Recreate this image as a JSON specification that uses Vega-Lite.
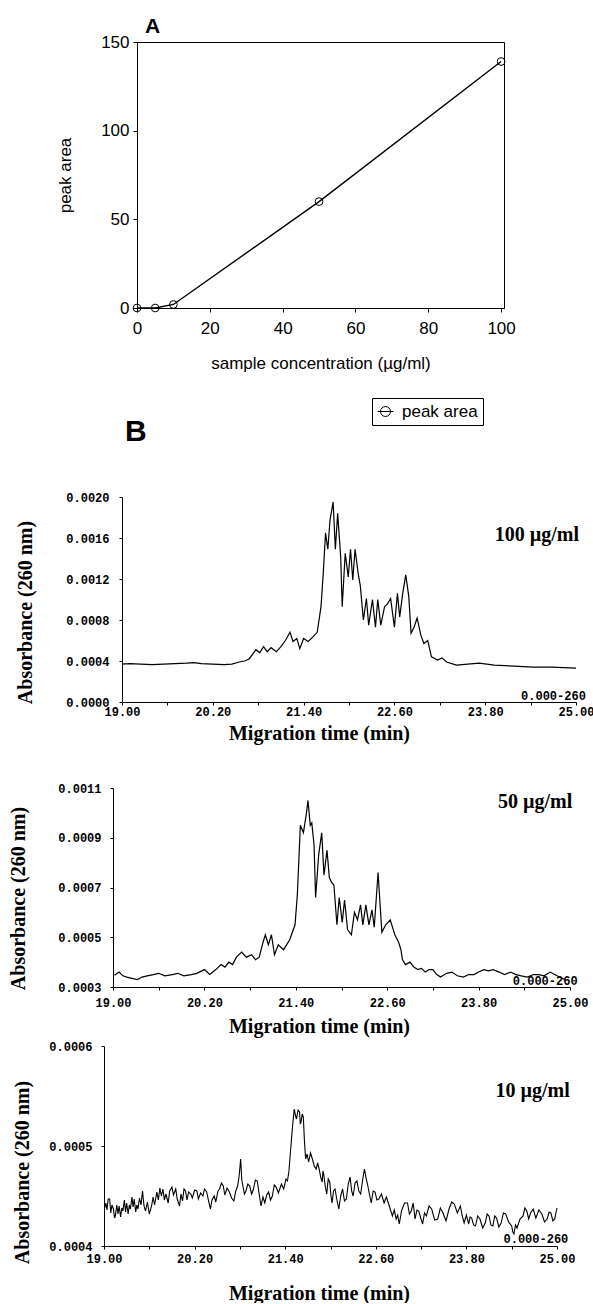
{
  "$schema": "https://vega.github.io/schema/vega-lite/v6.json",
  "background": "white",
  "padding": {"left": 0, "top": 15, "right": 0, "bottom": 0},
  "spacing": -12,
  "config": {
    "view": {"stroke": null},
    "axis": {"grid": false, "labelFlush": false, "labelOverlap": false, "domainColor": "black", "tickColor": "black", "labelColor": "black", "titleColor": "black", "domainWidth": 1, "tickWidth": 1},
    "title": {"color": "black"}
  },
  "datasets": {
    "peak": [
      {"conc": 0, "area": 0, "series": "peak area"},
      {"conc": 5, "area": 0, "series": "peak area"},
      {"conc": 10, "area": 2, "series": "peak area"},
      {"conc": 50, "area": 60, "series": "peak area"},
      {"conc": 100, "area": 139, "series": "peak area"}
    ],
    "b100": [
      {"t": 19.00, "abs": 0.00037}, {"t": 19.10, "abs": 0.000375}, {"t": 19.25, "abs": 0.00037}, {"t": 19.40, "abs": 0.000365},
      {"t": 19.55, "abs": 0.00037}, {"t": 19.70, "abs": 0.000375}, {"t": 19.85, "abs": 0.00038}, {"t": 19.95, "abs": 0.000385},
      {"t": 20.05, "abs": 0.000375}, {"t": 20.20, "abs": 0.00037}, {"t": 20.35, "abs": 0.000365}, {"t": 20.45, "abs": 0.00037},
      {"t": 20.55, "abs": 0.00039}, {"t": 20.62, "abs": 0.0004}, {"t": 20.68, "abs": 0.00042}, {"t": 20.72, "abs": 0.00046},
      {"t": 20.77, "abs": 0.00051}, {"t": 20.82, "abs": 0.00048}, {"t": 20.87, "abs": 0.00054}, {"t": 20.92, "abs": 0.00049},
      {"t": 20.97, "abs": 0.00053}, {"t": 21.04, "abs": 0.00049}, {"t": 21.10, "abs": 0.00054}, {"t": 21.16, "abs": 0.0006},
      {"t": 21.22, "abs": 0.00068}, {"t": 21.26, "abs": 0.00059}, {"t": 21.31, "abs": 0.00062}, {"t": 21.35, "abs": 0.00052},
      {"t": 21.40, "abs": 0.00062}, {"t": 21.46, "abs": 0.00059}, {"t": 21.53, "abs": 0.00064}, {"t": 21.58, "abs": 0.00068},
      {"t": 21.63, "abs": 0.00093}, {"t": 21.66, "abs": 0.00126}, {"t": 21.69, "abs": 0.00165}, {"t": 21.72, "abs": 0.00149},
      {"t": 21.75, "abs": 0.00178}, {"t": 21.79, "abs": 0.00195}, {"t": 21.82, "abs": 0.00149}, {"t": 21.85, "abs": 0.00184},
      {"t": 21.89, "abs": 0.00142}, {"t": 21.91, "abs": 0.00093}, {"t": 21.95, "abs": 0.00145}, {"t": 21.99, "abs": 0.00122},
      {"t": 22.02, "abs": 0.00149}, {"t": 22.05, "abs": 0.00119}, {"t": 22.08, "abs": 0.00149}, {"t": 22.12, "abs": 0.00126},
      {"t": 22.15, "abs": 0.00113}, {"t": 22.19, "abs": 0.0008}, {"t": 22.23, "abs": 0.00101}, {"t": 22.26, "abs": 0.00075},
      {"t": 22.31, "abs": 0.001}, {"t": 22.35, "abs": 0.00073}, {"t": 22.38, "abs": 0.001}, {"t": 22.42, "abs": 0.00075},
      {"t": 22.47, "abs": 0.00093}, {"t": 22.51, "abs": 0.00096}, {"t": 22.55, "abs": 0.00101}, {"t": 22.60, "abs": 0.00073},
      {"t": 22.64, "abs": 0.00106}, {"t": 22.67, "abs": 0.00083}, {"t": 22.71, "abs": 0.00106}, {"t": 22.75, "abs": 0.00124},
      {"t": 22.79, "abs": 0.00103}, {"t": 22.82, "abs": 0.00067}, {"t": 22.86, "abs": 0.00073}, {"t": 22.90, "abs": 0.00082},
      {"t": 22.95, "abs": 0.00065}, {"t": 22.99, "abs": 0.00057}, {"t": 23.04, "abs": 0.0006}, {"t": 23.09, "abs": 0.00044},
      {"t": 23.17, "abs": 0.00041}, {"t": 23.23, "abs": 0.00043}, {"t": 23.29, "abs": 0.00039}, {"t": 23.42, "abs": 0.00036},
      {"t": 23.57, "abs": 0.00037}, {"t": 23.72, "abs": 0.00038}, {"t": 23.92, "abs": 0.00036}, {"t": 24.18, "abs": 0.00035},
      {"t": 24.43, "abs": 0.00034}, {"t": 24.68, "abs": 0.00034}, {"t": 25.00, "abs": 0.00033}
    ],
    "b50": [
      {"t": 19.02, "abs": 0.000347}, {"t": 19.08, "abs": 0.00036}, {"t": 19.13, "abs": 0.000345}, {"t": 19.18, "abs": 0.00034},
      {"t": 19.25, "abs": 0.000335}, {"t": 19.32, "abs": 0.00033}, {"t": 19.38, "abs": 0.00034}, {"t": 19.45, "abs": 0.000345},
      {"t": 19.53, "abs": 0.00035}, {"t": 19.60, "abs": 0.000355}, {"t": 19.68, "abs": 0.000345}, {"t": 19.78, "abs": 0.00035},
      {"t": 19.85, "abs": 0.000355}, {"t": 19.93, "abs": 0.000345}, {"t": 20.03, "abs": 0.00035}, {"t": 20.10, "abs": 0.000355},
      {"t": 20.20, "abs": 0.00037}, {"t": 20.27, "abs": 0.00035}, {"t": 20.35, "abs": 0.00037}, {"t": 20.42, "abs": 0.00039},
      {"t": 20.47, "abs": 0.00038}, {"t": 20.52, "abs": 0.0004}, {"t": 20.57, "abs": 0.00039}, {"t": 20.62, "abs": 0.00042},
      {"t": 20.69, "abs": 0.00044}, {"t": 20.75, "abs": 0.00042}, {"t": 20.82, "abs": 0.00043}, {"t": 20.87, "abs": 0.00041},
      {"t": 20.92, "abs": 0.00042}, {"t": 20.97, "abs": 0.00048}, {"t": 21.00, "abs": 0.00051}, {"t": 21.04, "abs": 0.00047},
      {"t": 21.08, "abs": 0.00051}, {"t": 21.12, "abs": 0.00043}, {"t": 21.17, "abs": 0.00047}, {"t": 21.24, "abs": 0.00045},
      {"t": 21.32, "abs": 0.00049}, {"t": 21.39, "abs": 0.00055}, {"t": 21.42, "abs": 0.00067}, {"t": 21.46, "abs": 0.00095},
      {"t": 21.50, "abs": 0.00092}, {"t": 21.54, "abs": 0.001}, {"t": 21.56, "abs": 0.00105}, {"t": 21.59, "abs": 0.00095},
      {"t": 21.61, "abs": 0.00096}, {"t": 21.64, "abs": 0.00087}, {"t": 21.66, "abs": 0.00066}, {"t": 21.70, "abs": 0.00083},
      {"t": 21.74, "abs": 0.00092}, {"t": 21.77, "abs": 0.00075}, {"t": 21.81, "abs": 0.00085}, {"t": 21.84, "abs": 0.00074},
      {"t": 21.87, "abs": 0.00072}, {"t": 21.90, "abs": 0.00071}, {"t": 21.94, "abs": 0.00055}, {"t": 21.97, "abs": 0.00066},
      {"t": 22.01, "abs": 0.00056}, {"t": 22.04, "abs": 0.00065}, {"t": 22.08, "abs": 0.00053}, {"t": 22.13, "abs": 0.00051},
      {"t": 22.17, "abs": 0.0006}, {"t": 22.21, "abs": 0.00057}, {"t": 22.25, "abs": 0.00063}, {"t": 22.28, "abs": 0.00055},
      {"t": 22.32, "abs": 0.00063}, {"t": 22.36, "abs": 0.00055}, {"t": 22.40, "abs": 0.00061}, {"t": 22.43, "abs": 0.00054},
      {"t": 22.48, "abs": 0.00076}, {"t": 22.53, "abs": 0.00052}, {"t": 22.58, "abs": 0.00055}, {"t": 22.64, "abs": 0.00057},
      {"t": 22.70, "abs": 0.00051}, {"t": 22.75, "abs": 0.00048}, {"t": 22.78, "abs": 0.00045}, {"t": 22.80, "abs": 0.00041},
      {"t": 22.84, "abs": 0.00039}, {"t": 22.90, "abs": 0.0004}, {"t": 22.95, "abs": 0.00038}, {"t": 23.00, "abs": 0.00037},
      {"t": 23.05, "abs": 0.000375}, {"t": 23.10, "abs": 0.00036}, {"t": 23.15, "abs": 0.00037}, {"t": 23.20, "abs": 0.00037},
      {"t": 23.25, "abs": 0.00035}, {"t": 23.30, "abs": 0.00034}, {"t": 23.38, "abs": 0.000355}, {"t": 23.45, "abs": 0.00036},
      {"t": 23.52, "abs": 0.000345}, {"t": 23.60, "abs": 0.00034}, {"t": 23.67, "abs": 0.00035}, {"t": 23.74, "abs": 0.00035},
      {"t": 23.80, "abs": 0.00036}, {"t": 23.87, "abs": 0.00037}, {"t": 23.93, "abs": 0.000365}, {"t": 23.99, "abs": 0.00037},
      {"t": 24.07, "abs": 0.00036}, {"t": 24.14, "abs": 0.00035}, {"t": 24.22, "abs": 0.00036}, {"t": 24.29, "abs": 0.00035},
      {"t": 24.36, "abs": 0.000345}, {"t": 24.44, "abs": 0.00034}, {"t": 24.52, "abs": 0.00035}, {"t": 24.59, "abs": 0.00035},
      {"t": 24.66, "abs": 0.000345}, {"t": 24.74, "abs": 0.00036}, {"t": 24.80, "abs": 0.00035}, {"t": 24.86, "abs": 0.00034},
      {"t": 24.93, "abs": 0.00033}
    ],
    "b10": [
      {"t": 19.010, "abs": 0.000438}, {"t": 19.025, "abs": 0.000443}, {"t": 19.040, "abs": 0.000436}, {"t": 19.055, "abs": 0.000447},
      {"t": 19.075, "abs": 0.000447}, {"t": 19.090, "abs": 0.000433}, {"t": 19.105, "abs": 0.000441}, {"t": 19.125, "abs": 0.000437},
      {"t": 19.140, "abs": 0.000428}, {"t": 19.150, "abs": 0.00043}, {"t": 19.170, "abs": 0.000441}, {"t": 19.185, "abs": 0.000432},
      {"t": 19.200, "abs": 0.00044}, {"t": 19.220, "abs": 0.000429}, {"t": 19.235, "abs": 0.000438}, {"t": 19.250, "abs": 0.000435},
      {"t": 19.270, "abs": 0.000446}, {"t": 19.285, "abs": 0.000434}, {"t": 19.300, "abs": 0.000443}, {"t": 19.320, "abs": 0.000432},
      {"t": 19.335, "abs": 0.000441}, {"t": 19.350, "abs": 0.000437}, {"t": 19.370, "abs": 0.000449}, {"t": 19.385, "abs": 0.000439},
      {"t": 19.400, "abs": 0.000447}, {"t": 19.420, "abs": 0.000434}, {"t": 19.435, "abs": 0.000441}, {"t": 19.450, "abs": 0.000437},
      {"t": 19.470, "abs": 0.000448}, {"t": 19.490, "abs": 0.000441}, {"t": 19.510, "abs": 0.000455}, {"t": 19.530, "abs": 0.00044},
      {"t": 19.550, "abs": 0.000435}, {"t": 19.575, "abs": 0.000444}, {"t": 19.600, "abs": 0.000432}, {"t": 19.630, "abs": 0.00044},
      {"t": 19.650, "abs": 0.000449}, {"t": 19.670, "abs": 0.000441}, {"t": 19.700, "abs": 0.000454}, {"t": 19.720, "abs": 0.000446},
      {"t": 19.740, "abs": 0.000458}, {"t": 19.760, "abs": 0.00045}, {"t": 19.780, "abs": 0.000457}, {"t": 19.800, "abs": 0.000446},
      {"t": 19.820, "abs": 0.000452}, {"t": 19.850, "abs": 0.000443}, {"t": 19.870, "abs": 0.000455}, {"t": 19.900, "abs": 0.000459},
      {"t": 19.920, "abs": 0.000451}, {"t": 19.950, "abs": 0.000457}, {"t": 19.970, "abs": 0.000447}, {"t": 20.000, "abs": 0.00044},
      {"t": 20.020, "abs": 0.000452}, {"t": 20.040, "abs": 0.000445}, {"t": 20.060, "abs": 0.000457}, {"t": 20.080, "abs": 0.000455},
      {"t": 20.100, "abs": 0.000446}, {"t": 20.120, "abs": 0.000454}, {"t": 20.150, "abs": 0.000452}, {"t": 20.170, "abs": 0.000448},
      {"t": 20.200, "abs": 0.000456}, {"t": 20.230, "abs": 0.000455}, {"t": 20.250, "abs": 0.000447}, {"t": 20.280, "abs": 0.000453},
      {"t": 20.310, "abs": 0.00045}, {"t": 20.330, "abs": 0.000457}, {"t": 20.360, "abs": 0.000454}, {"t": 20.385, "abs": 0.000445},
      {"t": 20.410, "abs": 0.000437}, {"t": 20.430, "abs": 0.000446}, {"t": 20.460, "abs": 0.00045}, {"t": 20.480, "abs": 0.000444},
      {"t": 20.510, "abs": 0.000455}, {"t": 20.530, "abs": 0.000457}, {"t": 20.555, "abs": 0.000463}, {"t": 20.580, "abs": 0.00046},
      {"t": 20.600, "abs": 0.000451}, {"t": 20.630, "abs": 0.000458}, {"t": 20.660, "abs": 0.000454}, {"t": 20.690, "abs": 0.000448},
      {"t": 20.720, "abs": 0.000445}, {"t": 20.745, "abs": 0.000455}, {"t": 20.770, "abs": 0.00046}, {"t": 20.790, "abs": 0.00047},
      {"t": 20.810, "abs": 0.000487}, {"t": 20.825, "abs": 0.000466}, {"t": 20.840, "abs": 0.00046}, {"t": 20.860, "abs": 0.000452},
      {"t": 20.880, "abs": 0.000455}, {"t": 20.905, "abs": 0.000462}, {"t": 20.930, "abs": 0.00046}, {"t": 20.955, "abs": 0.000452},
      {"t": 20.980, "abs": 0.000457}, {"t": 21.005, "abs": 0.000466}, {"t": 21.030, "abs": 0.000465}, {"t": 21.055, "abs": 0.000452},
      {"t": 21.080, "abs": 0.00044}, {"t": 21.105, "abs": 0.000449}, {"t": 21.130, "abs": 0.000443}, {"t": 21.155, "abs": 0.000451},
      {"t": 21.180, "abs": 0.000454}, {"t": 21.205, "abs": 0.000446}, {"t": 21.230, "abs": 0.00045}, {"t": 21.255, "abs": 0.000461},
      {"t": 21.280, "abs": 0.000459}, {"t": 21.310, "abs": 0.000453}, {"t": 21.350, "abs": 0.000462}, {"t": 21.380, "abs": 0.000457},
      {"t": 21.410, "abs": 0.000467}, {"t": 21.430, "abs": 0.000465}, {"t": 21.450, "abs": 0.000475}, {"t": 21.465, "abs": 0.00049},
      {"t": 21.480, "abs": 0.000504}, {"t": 21.500, "abs": 0.000522}, {"t": 21.520, "abs": 0.000537}, {"t": 21.535, "abs": 0.000531},
      {"t": 21.550, "abs": 0.000527}, {"t": 21.570, "abs": 0.000536}, {"t": 21.590, "abs": 0.000534}, {"t": 21.600, "abs": 0.000522},
      {"t": 21.610, "abs": 0.000524}, {"t": 21.625, "abs": 0.000532}, {"t": 21.640, "abs": 0.000529}, {"t": 21.655, "abs": 0.000505},
      {"t": 21.670, "abs": 0.000487}, {"t": 21.690, "abs": 0.000492}, {"t": 21.710, "abs": 0.000484}, {"t": 21.735, "abs": 0.000493},
      {"t": 21.760, "abs": 0.000487}, {"t": 21.785, "abs": 0.00048}, {"t": 21.810, "abs": 0.000477}, {"t": 21.830, "abs": 0.000483},
      {"t": 21.850, "abs": 0.000477}, {"t": 21.870, "abs": 0.000469}, {"t": 21.890, "abs": 0.000464}, {"t": 21.900, "abs": 0.000475},
      {"t": 21.910, "abs": 0.000472}, {"t": 21.930, "abs": 0.00046}, {"t": 21.950, "abs": 0.000452}, {"t": 21.970, "abs": 0.000467},
      {"t": 21.990, "abs": 0.000464}, {"t": 22.005, "abs": 0.000451}, {"t": 22.020, "abs": 0.000443}, {"t": 22.040, "abs": 0.000455},
      {"t": 22.060, "abs": 0.000457}, {"t": 22.085, "abs": 0.000446}, {"t": 22.110, "abs": 0.000437}, {"t": 22.135, "abs": 0.00045},
      {"t": 22.160, "abs": 0.000457}, {"t": 22.185, "abs": 0.000445}, {"t": 22.210, "abs": 0.000447}, {"t": 22.235, "abs": 0.000462},
      {"t": 22.260, "abs": 0.000469}, {"t": 22.280, "abs": 0.000455}, {"t": 22.300, "abs": 0.00045}, {"t": 22.325, "abs": 0.000463},
      {"t": 22.350, "abs": 0.000465}, {"t": 22.375, "abs": 0.000455}, {"t": 22.400, "abs": 0.000452}, {"t": 22.425, "abs": 0.000466},
      {"t": 22.450, "abs": 0.000477}, {"t": 22.470, "abs": 0.000468}, {"t": 22.490, "abs": 0.000462}, {"t": 22.515, "abs": 0.000452},
      {"t": 22.540, "abs": 0.000443}, {"t": 22.565, "abs": 0.000455}, {"t": 22.590, "abs": 0.000454}, {"t": 22.615, "abs": 0.000446},
      {"t": 22.640, "abs": 0.000447}, {"t": 22.675, "abs": 0.000452}, {"t": 22.710, "abs": 0.000443}, {"t": 22.740, "abs": 0.000449},
      {"t": 22.770, "abs": 0.000442}, {"t": 22.795, "abs": 0.000436}, {"t": 22.820, "abs": 0.00043}, {"t": 22.845, "abs": 0.000436},
      {"t": 22.870, "abs": 0.000427}, {"t": 22.890, "abs": 0.000431}, {"t": 22.910, "abs": 0.000422}, {"t": 22.925, "abs": 0.000428},
      {"t": 22.940, "abs": 0.000435}, {"t": 22.980, "abs": 0.000443}, {"t": 23.020, "abs": 0.000443}, {"t": 23.045, "abs": 0.000432},
      {"t": 23.070, "abs": 0.000435}, {"t": 23.095, "abs": 0.000443}, {"t": 23.120, "abs": 0.000427}, {"t": 23.145, "abs": 0.000436},
      {"t": 23.170, "abs": 0.000435}, {"t": 23.195, "abs": 0.000428}, {"t": 23.220, "abs": 0.000422}, {"t": 23.245, "abs": 0.000433},
      {"t": 23.270, "abs": 0.00043}, {"t": 23.305, "abs": 0.00044}, {"t": 23.340, "abs": 0.000437}, {"t": 23.380, "abs": 0.000426},
      {"t": 23.420, "abs": 0.000427}, {"t": 23.455, "abs": 0.000438}, {"t": 23.490, "abs": 0.000433}, {"t": 23.530, "abs": 0.000425},
      {"t": 23.570, "abs": 0.000437}, {"t": 23.605, "abs": 0.000444}, {"t": 23.640, "abs": 0.000442}, {"t": 23.680, "abs": 0.000433},
      {"t": 23.720, "abs": 0.00044}, {"t": 23.745, "abs": 0.00043}, {"t": 23.770, "abs": 0.000423}, {"t": 23.800, "abs": 0.000431},
      {"t": 23.830, "abs": 0.000422}, {"t": 23.850, "abs": 0.000429}, {"t": 23.870, "abs": 0.000428}, {"t": 23.895, "abs": 0.000421},
      {"t": 23.920, "abs": 0.00042}, {"t": 23.950, "abs": 0.00043}, {"t": 23.980, "abs": 0.000427}, {"t": 24.015, "abs": 0.000418},
      {"t": 24.050, "abs": 0.000423}, {"t": 24.075, "abs": 0.000432}, {"t": 24.100, "abs": 0.00043}, {"t": 24.125, "abs": 0.000421},
      {"t": 24.150, "abs": 0.00042}, {"t": 24.175, "abs": 0.00043}, {"t": 24.200, "abs": 0.000428}, {"t": 24.230, "abs": 0.000419},
      {"t": 24.260, "abs": 0.000423}, {"t": 24.290, "abs": 0.000433}, {"t": 24.320, "abs": 0.000432}, {"t": 24.360, "abs": 0.000424},
      {"t": 24.400, "abs": 0.00042}, {"t": 24.415, "abs": 0.000414}, {"t": 24.430, "abs": 0.000412}, {"t": 24.450, "abs": 0.000421},
      {"t": 24.470, "abs": 0.000418}, {"t": 24.510, "abs": 0.000427}, {"t": 24.550, "abs": 0.00043}, {"t": 24.575, "abs": 0.000438},
      {"t": 24.600, "abs": 0.000435}, {"t": 24.625, "abs": 0.000427}, {"t": 24.650, "abs": 0.000433}, {"t": 24.685, "abs": 0.000437},
      {"t": 24.720, "abs": 0.000428}, {"t": 24.760, "abs": 0.000436}, {"t": 24.800, "abs": 0.000432}, {"t": 24.835, "abs": 0.000424},
      {"t": 24.870, "abs": 0.000427}, {"t": 24.895, "abs": 0.000434}, {"t": 24.920, "abs": 0.000433}, {"t": 24.945, "abs": 0.000425},
      {"t": 24.970, "abs": 0.000427}, {"t": 24.985, "abs": 0.000433}, {"t": 25.000, "abs": 0.000438}
    ]
  },
  "vconcat": [
    {
      "spacing": 0,
      "hconcat": [
        {"width": 56, "height": 387, "data": {"values": []}, "mark": {"type": "point", "opacity": 0}},
        {
          "width": 367, "height": 266,
          "view": {"stroke": "black", "strokeWidth": 1},
          "title": {"text": "A", "anchor": "start", "frame": "group", "dx": 8, "offset": -4, "font": "Liberation Sans", "fontSize": 21, "fontWeight": "bold"},
          "data": {"name": "peak"},
          "encoding": {
            "x": {"field": "conc", "type": "quantitative", "scale": {"domain": [0, 100.8], "nice": false, "zero": false},
                  "axis": {"values": [0, 20, 40, 60, 80, 100], "title": "sample concentration (µg/ml)", "labelFont": "Liberation Sans", "labelFontSize": 17, "titleFont": "Liberation Sans", "titleFontSize": 17, "titleFontWeight": "normal", "tickSize": 4, "labelPadding": 8, "titlePadding": 19}},
            "y": {"field": "area", "type": "quantitative", "scale": {"domain": [0, 150], "nice": false},
                  "axis": {"values": [0, 50, 100, 150], "title": "peak area", "labelFont": "Liberation Sans", "labelFontSize": 17, "titleFont": "Liberation Sans", "titleFontSize": 17, "titleFontWeight": "normal", "tickSize": 4, "labelPadding": 4, "titlePadding": 26}}
          },
          "layer": [
            {"mark": {"type": "line", "color": "black", "strokeWidth": 1.4}},
            {"mark": {"type": "point", "filled": false, "size": 60, "strokeWidth": 1, "opacity": 1},
             "encoding": {"color": {"field": "series", "type": "nominal", "scale": {"range": ["black"]},
               "legend": {"orient": "none", "legendX": 372, "legendY": 356, "title": null, "symbolType": "M-1,0A1,1,0,1,1,1,0A1,1,0,1,1,-1,0M-1.6,0L1.6,0", "symbolSize": 100, "symbolStrokeWidth": 1, "labelFont": "Liberation Sans", "labelFontSize": 17, "labelColor": "black", "strokeColor": "black", "fillColor": "white", "padding": 5, "labelOffset": 8}}}}
          ]
        }
      ]
    },
    {
      "spacing": 0,
      "hconcat": [
        {"width": 15, "height": 291, "data": {"values": []}, "mark": {"type": "point", "opacity": 0}},
        {
          "width": 454, "height": 205,
          "title": {"text": "B", "anchor": "start", "frame": "group", "dx": 3, "offset": 44, "font": "Liberation Sans", "fontSize": 30, "fontWeight": "bold"},
          "layer": [
            {"data": {"name": "b100"}, "mark": {"type": "line", "color": "black", "strokeWidth": 1.2},
             "encoding": {
               "x": {"field": "t", "type": "quantitative", "scale": {"domain": [19, 25], "nice": false, "zero": false},
                     "axis": {"values": [19, 19.6, 20.2, 20.8, 21.4, 22, 22.6, 23.2, 23.8, 24.4, 25], "format": ".2f", "labelExpr": "indexof(['19.00','20.20','21.40','22.60','23.80','25.00'], datum.label) >= 0 ? datum.label : ''", "title": "Migration time (min)", "labelFont": "Liberation Mono", "labelFontWeight": "bold", "labelFontSize": 12, "titleFont": "Liberation Serif", "titleFontSize": 20, "titleFontWeight": "bold", "tickSize": 3, "labelPadding": 1, "titlePadding": 6, "titleX": 197}},
               "y": {"field": "abs", "type": "quantitative", "scale": {"domain": [0, 0.002], "nice": false},
                     "axis": {"values": [0, 0.0004, 0.0008, 0.0012, 0.0016, 0.002], "format": ".4f", "title": "Absorbance (260 nm)", "labelFont": "Liberation Mono", "labelFontWeight": "bold", "labelFontSize": 12, "titleFont": "Liberation Serif", "titleFontSize": 20, "titleFontWeight": "bold", "tickSize": 3, "labelPadding": 10, "titlePadding": 30, "titleY": 115}}
             }},
            {"data": {"values": [{"label": "100 µg/ml"}]}, "mark": {"type": "text", "align": "right", "baseline": "middle", "font": "Liberation Serif", "fontWeight": "bold", "fontSize": 20, "color": "black"},
             "encoding": {"x": {"datum": 25.04}, "y": {"datum": 0.00163}, "text": {"field": "label"}}},
            {"data": {"values": [{"label": "0.000-260"}]}, "mark": {"type": "text", "align": "right", "baseline": "middle", "font": "Liberation Mono", "fontWeight": "bold", "fontSize": 12, "color": "black"},
             "encoding": {"x": {"datum": 25.13}, "y": {"datum": 0.0000585}, "text": {"field": "label"}}}
          ]
        }
      ]
    },
    {
      "spacing": 0,
      "hconcat": [
        {"width": 8, "height": 258, "data": {"values": []}, "mark": {"type": "point", "opacity": 0}},
        {
          "width": 457, "height": 199,
          "layer": [
            {"data": {"name": "b50"}, "mark": {"type": "line", "color": "black", "strokeWidth": 1.2},
             "encoding": {
               "x": {"field": "t", "type": "quantitative", "scale": {"domain": [19, 25], "nice": false, "zero": false},
                     "axis": {"values": [19, 19.6, 20.2, 20.8, 21.4, 22, 22.6, 23.2, 23.8, 24.4, 25], "format": ".2f", "labelExpr": "indexof(['19.00','20.20','21.40','22.60','23.80','25.00'], datum.label) >= 0 ? datum.label : ''", "title": "Migration time (min)", "labelFont": "Liberation Mono", "labelFontWeight": "bold", "labelFontSize": 12, "titleFont": "Liberation Serif", "titleFontSize": 20, "titleFontWeight": "bold", "tickSize": 3, "labelPadding": 7, "titlePadding": 8, "titleX": 206}},
               "y": {"field": "abs", "type": "quantitative", "scale": {"domain": [0.0003, 0.0011], "nice": false, "zero": false},
                     "axis": {"values": [0.0003, 0.0005, 0.0007, 0.0009, 0.0011], "format": ".4f", "title": "Absorbance (260 nm)", "labelFont": "Liberation Mono", "labelFontWeight": "bold", "labelFontSize": 12, "titleFont": "Liberation Serif", "titleFontSize": 20, "titleFontWeight": "bold", "tickSize": 3, "labelPadding": 9, "titlePadding": 29, "titleY": 110}}
             }},
            {"data": {"values": [{"label": "50 µg/ml"}]}, "mark": {"type": "text", "align": "right", "baseline": "middle", "font": "Liberation Serif", "fontWeight": "bold", "fontSize": 20, "color": "black"},
             "encoding": {"x": {"datum": 25.03}, "y": {"datum": 0.001044}, "text": {"field": "label"}}},
            {"data": {"values": [{"label": "0.000-260"}]}, "mark": {"type": "text", "align": "right", "baseline": "middle", "font": "Liberation Mono", "fontWeight": "bold", "fontSize": 12, "color": "black"},
             "encoding": {"x": {"datum": 25.10}, "y": {"datum": 0.000324}, "text": {"field": "label"}}}
          ]
        }
      ]
    },
    {
      "spacing": 0,
      "hconcat": [
        {"width": 12, "height": 1, "data": {"values": []}, "mark": {"type": "point", "opacity": 0}},
        {
          "width": 453, "height": 200,
          "layer": [
            {"data": {"name": "b10"}, "mark": {"type": "line", "color": "black", "strokeWidth": 1.1},
             "encoding": {
               "x": {"field": "t", "type": "quantitative", "scale": {"domain": [19, 25], "nice": false, "zero": false},
                     "axis": {"values": [19, 19.6, 20.2, 20.8, 21.4, 22, 22.6, 23.2, 23.8, 24.4, 25], "format": ".2f", "labelExpr": "indexof(['19.00','20.20','21.40','22.60','23.80','25.00'], datum.label) >= 0 ? datum.label : ''", "title": "Migration time (min)", "labelFont": "Liberation Mono", "labelFontWeight": "bold", "labelFontSize": 12, "titleFont": "Liberation Serif", "titleFontSize": 20, "titleFontWeight": "bold", "tickSize": 3, "labelPadding": 4, "titlePadding": 19, "titleX": 215}},
               "y": {"field": "abs", "type": "quantitative", "scale": {"domain": [0.0004, 0.0006], "nice": false, "zero": false},
                     "axis": {"values": [0.0004, 0.0005, 0.0006], "format": ".4f", "title": "Absorbance (260 nm)", "labelFont": "Liberation Mono", "labelFontWeight": "bold", "labelFontSize": 12, "titleFont": "Liberation Serif", "titleFontSize": 20, "titleFontWeight": "bold", "tickSize": 3, "labelPadding": 9, "titlePadding": 16, "titleY": 126}}
             }},
            {"data": {"values": [{"label": "10 µg/ml"}]}, "mark": {"type": "text", "align": "right", "baseline": "middle", "font": "Liberation Serif", "fontWeight": "bold", "fontSize": 20, "color": "black"},
             "encoding": {"x": {"datum": 25.17}, "y": {"datum": 0.000555}, "text": {"field": "label"}}},
            {"data": {"values": [{"label": "0.000-260"}]}, "mark": {"type": "text", "align": "right", "baseline": "middle", "font": "Liberation Mono", "fontWeight": "bold", "fontSize": 12, "color": "black"},
             "encoding": {"x": {"datum": 25.15}, "y": {"datum": 0.000407}, "text": {"field": "label"}}}
          ]
        }
      ]
    }
  ]
}
